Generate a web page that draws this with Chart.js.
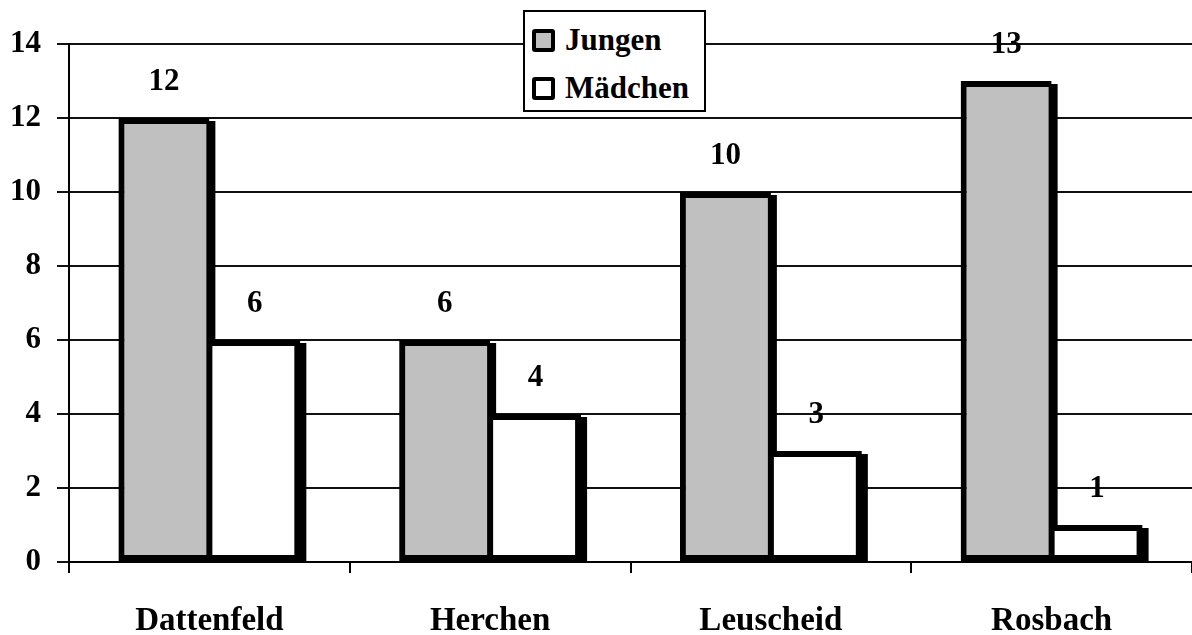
<!DOCTYPE html>
<html>
<head>
<meta charset="utf-8">
<script src="https://cdn.jsdelivr.net/npm/chart.js@4.4.0/dist/chart.umd.min.js"></script>
<style>
  body { margin: 0; background: #fff; }
  #wrap { position: relative; width: 1192px; height: 635px; }
  #legend {
    position: absolute; left: 523px; top: 10px; width: 179px; height: 98px;
    border: 2px solid #000; background: #fff;
    font: bold 31px "Liberation Serif", serif; color: #000;
  }
  .item { position: absolute; left: 7px; height: 40px; display: flex; align-items: center; white-space: nowrap; }
  .box { width: 15px; height: 15px; border: 4px solid #000; border-radius: 3px; margin-right: 10px; }
</style>
</head>
<body>
<div id="wrap">
  <canvas id="chart"></canvas>
  <div id="legend"></div>
</div>
<script>
// chart data
const categories = ['Dattenfeld', 'Herchen', 'Leuscheid', 'Rosbach'];
const jungen = [12, 6, 10, 13];
const maedchen = [6, 4, 3, 1];
const seriesNames = ['Jungen', 'Mädchen'];
const seriesColors = ['#c0c0c0', '#ffffff'];
const yMin = 0;
const yMax = 14;
const yStep = 2;

const fontFamily = '"Liberation Serif", serif';

// black drop shadow to the right of each bar, drawn before the bars
const barShadow = {
    id: 'barShadow',
    beforeDatasetsDraw(chart) {
        const c = chart.ctx;
        const area = chart.chartArea;
        c.save();
        c.beginPath();
        c.rect(area.left, area.top, area.right - area.left, area.bottom - area.top);
        c.clip();
        c.fillStyle = '#000';
        chart.data.datasets.forEach((ds, i) => {
            chart.getDatasetMeta(i).data.forEach(bar => {
                const p = bar.getProps(['x', 'y', 'base', 'width'], true);
                c.fillRect(p.x - p.width / 2 + 6, p.y + 3, p.width, p.base - p.y - 3);
            });
        });
        c.restore();
    }
};

// value labels above the bars
const valueLabels = {
    id: 'valueLabels',
    afterDatasetsDraw(chart) {
        const c = chart.ctx;
        c.save();
        c.font = 'bold 31px ' + fontFamily;
        c.fillStyle = '#000';
        c.textAlign = 'center';
        c.textBaseline = 'middle';
        chart.data.datasets.forEach((ds, i) => {
            chart.getDatasetMeta(i).data.forEach((bar, j) => {
                c.fillText(String(ds.data[j]), bar.x, bar.y - 36);
            });
        });
        c.restore();
    }
};

const chart = new Chart(document.getElementById('chart').getContext('2d'), {
    type: 'bar',
    data: {
        labels: categories,
        datasets: [{
            label: seriesNames[0],
            data: jungen,
            backgroundColor: seriesColors[0],
            borderColor: '#000',
            borderWidth: { top: 6, left: 6, bottom: 6, right: 3 },
            borderSkipped: false,
            barPercentage: 1,
            categoryPercentage: 0.648,
            clip: 0
        }, {
            label: seriesNames[1],
            data: maedchen,
            backgroundColor: seriesColors[1],
            borderColor: '#000',
            borderWidth: { top: 6, left: 3, bottom: 6, right: 6 },
            borderSkipped: false,
            barPercentage: 1,
            categoryPercentage: 0.648,
            clip: 0
        }]
    },
    options: {
        responsive: true,
        maintainAspectRatio: false,
        animation: false,
        layout: { padding: { top: 44, right: 0, bottom: 0, left: 0 } },
        plugins: {
            legend: { display: false },
            tooltip: { enabled: false }
        },
        scales: {
            x: {
                offset: true,
                grid: { offset: true, drawOnChartArea: false, tickLength: 11, color: '#000', lineWidth: 2 },
                border: { display: true, color: '#000', width: 2 },
                ticks: { color: '#000', padding: 29, maxRotation: 0, font: { family: fontFamily, size: 33, weight: 'bold' } },
                afterFit(scale) { scale.height = 73; }
            },
            y: {
                min: yMin,
                max: yMax,
                ticks: { stepSize: yStep, color: '#000', padding: 16, font: { family: fontFamily, size: 31, weight: 'bold' } },
                grid: { color: '#111', lineWidth: 2, tickLength: 12 },
                border: { display: true, color: '#000', width: 2 },
                afterFit(scale) { scale.width = 69; }
            }
        }
    },
    plugins: [barShadow, valueLabels]
});

// legend box built from the series
const legend = document.getElementById('legend');
seriesNames.forEach((name, i) => {
    const item = document.createElement('div');
    item.className = 'item';
    item.style.top = (8 + i * 48) + 'px';
    const box = document.createElement('span');
    box.className = 'box';
    box.style.background = seriesColors[i];
    const txt = document.createElement('span');
    txt.textContent = name;
    item.appendChild(box);
    item.appendChild(txt);
    legend.appendChild(item);
});
</script>
</body>
</html>
